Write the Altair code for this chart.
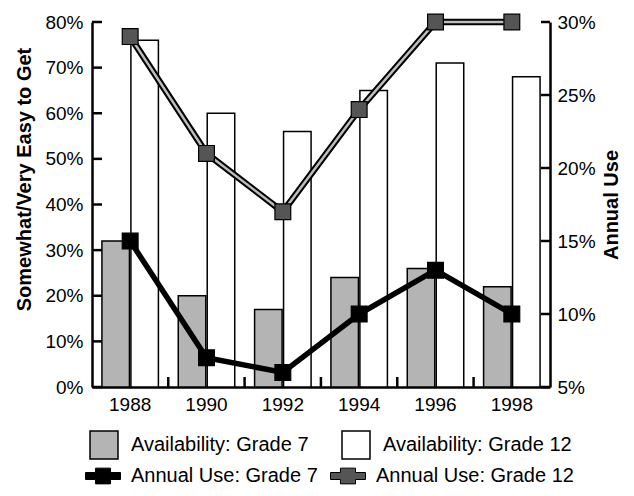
import altair as alt
import pandas as pd

years = ["1988", "1990", "1992", "1994", "1996", "1998"]
avail_series = ["Availability: Grade 7", "Availability: Grade 12"]
avail_grade7 = [32, 20, 17, 24, 26, 22]
avail_grade12 = [76, 60, 56, 65, 71, 68]
use_series = ["Annual Use: Grade 7", "Annual Use: Grade 12"]
use_grade7 = [15, 7, 6, 10, 13, 10]
use_grade12 = [29, 21, 17, 24, 30, 30]
left_ticks = [0, 10, 20, 30, 40, 50, 60, 70, 80]
right_ticks = [5, 10, 15, 20, 25, 30]
boundary_years = ["1990", "1992", "1994", "1996", "1998"]

avail_df = pd.DataFrame({
    "year": years * 2,
    "series": [avail_series[0]] * len(years) + [avail_series[1]] * len(years),
    "value": avail_grade7 + avail_grade12,
})
use_df = pd.DataFrame({
    "year": years * 2,
    "series": [use_series[0]] * len(years) + [use_series[1]] * len(years),
    "value": use_grade7 + use_grade12,
})
left_tick_df = pd.DataFrame({"value": left_ticks})
right_tick_df = pd.DataFrame({"value": right_ticks})
xtick_df = pd.DataFrame({"year": boundary_years})

FONT = "Liberation Sans"
W, H = 458, 365
x_scale = alt.Scale(paddingInner=0.26, paddingOuter=0.13)
x_axis = alt.Axis(title=None, labelAngle=0, labelFontSize=19, labelPadding=8,
                  ticks=False, domainWidth=2.5, domainColor="black",
                  labelColor="black", grid=False)


def x_enc(**kw):
    return alt.X("year:N", sort=years, scale=x_scale, axis=x_axis, **kw)


y_left = alt.Y(
    "value:Q",
    scale=alt.Scale(domain=[0, 80], nice=False),
    axis=alt.Axis(values=left_ticks, labelExpr="datum.value + '%'",
                  title="Somewhat/Very Easy to Get", titleFontSize=20,
                  titleFontWeight="bold", titleY=157, titlePadding=10,
                  labelFontSize=19, labelPadding=9, ticks=False,
                  domainWidth=2.5, domainColor="black",
                  labelColor="black", titleColor="black", grid=False),
)

y_right = alt.Y(
    "value:Q",
    scale=alt.Scale(domain=[5, 30], nice=False, zero=False),
    axis=alt.Axis(orient="right", values=right_ticks, labelExpr="datum.value + '%'",
                  title="Annual Use", titleFontSize=20, titleFontWeight="bold",
                  titleAngle=270, titleBaseline="top", titlePadding=6,
                  labelFontSize=19, labelPadding=7, ticks=False,
                  domainWidth=2.5, domainColor="black",
                  labelColor="black", titleColor="black", grid=False),
)

bars = alt.Chart(avail_df).mark_bar(stroke="black", strokeWidth=1.5).encode(
    x=x_enc(),
    xOffset=alt.XOffset("series:N", sort=avail_series, scale=alt.Scale(paddingInner=0.05)),
    y=y_left,
    fill=alt.Fill(
        "series:N", sort=avail_series,
        scale=alt.Scale(domain=avail_series, range=["#b4b4b4", "white"]),
        legend=alt.Legend(orient="none", legendX=-3, legendY=408, direction="horizontal",
                          title=None, symbolType="square", symbolSize=784,
                          symbolStrokeColor="black", symbolStrokeWidth=1.5,
                          labelFontSize=20, labelOffset=12, columnPadding=30,
                          labelLimit=400, labelColor="black", labelFont=FONT),
    ),
)

# inward tick marks
left_tick_marks = alt.Chart(left_tick_df).mark_rule(color="black", strokeWidth=2.5).encode(
    y=y_left, x=alt.value(0), x2=alt.value(10))
x_tick_marks = alt.Chart(xtick_df).mark_rule(
    color="black", strokeWidth=2.5, xOffset=-10
).encode(x=x_enc(bandPosition=0), y=alt.value(H - 10), y2=alt.value(H))
right_tick_marks = alt.Chart(right_tick_df).mark_rule(color="black", strokeWidth=2.5).encode(
    y=y_right, x=alt.value(W - 9), x2=alt.value(W))

g12 = alt.datum.series == use_series[1]
g7 = alt.datum.series == use_series[0]

line12_outer = alt.Chart(use_df).transform_filter(g12).mark_line(
    color="black", strokeWidth=6.5).encode(x=x_enc(), y=y_right)
line12_inner = alt.Chart(use_df).transform_filter(g12).mark_line(
    color="#bdbdbd", strokeWidth=2.5).encode(x=x_enc(), y=y_right)
line7 = alt.Chart(use_df).transform_filter(g7).mark_line(
    color="black", strokeWidth=5.5).encode(x=x_enc(), y=y_right)

marker_path = "M-1,-0.2H-0.43V-0.45H0.43V-0.2H1V0.2H0.43V0.45H-0.43V0.2H-1Z"
points = alt.Chart(use_df).mark_point(
    shape="square", filled=True, size=250, stroke="black", strokeWidth=1.2, opacity=1
).encode(
    x=x_enc(), y=y_right,
    color=alt.Color(
        "series:N", sort=use_series,
        scale=alt.Scale(domain=use_series, range=["black", "#555555"]),
        legend=alt.Legend(orient="none", legendX=-7, legendY=436, direction="horizontal",
                          title=None, symbolType=marker_path, symbolSize=1225,
                          symbolStrokeColor="black", symbolStrokeWidth=1,
                          symbolOpacity=1, labelFontSize=20, labelOffset=10,
                          columnPadding=10, labelLimit=400, labelColor="black",
                          labelFont=FONT),
    ),
)

left = alt.layer(bars, left_tick_marks, x_tick_marks)
right = alt.layer(right_tick_marks, line12_outer, line12_inner, line7, points)

chart = alt.layer(left, right).resolve_scale(y="independent").properties(
    width=W, height=H,
    padding={"left": 84, "top": 14, "right": 76, "bottom": 101},
    autosize=alt.AutoSizeParams(type="none"),
).configure_axis(labelFont=FONT, titleFont=FONT).configure_view(strokeWidth=0)

chart.save("out.html", embed_options={"renderer": "svg", "actions": False})
